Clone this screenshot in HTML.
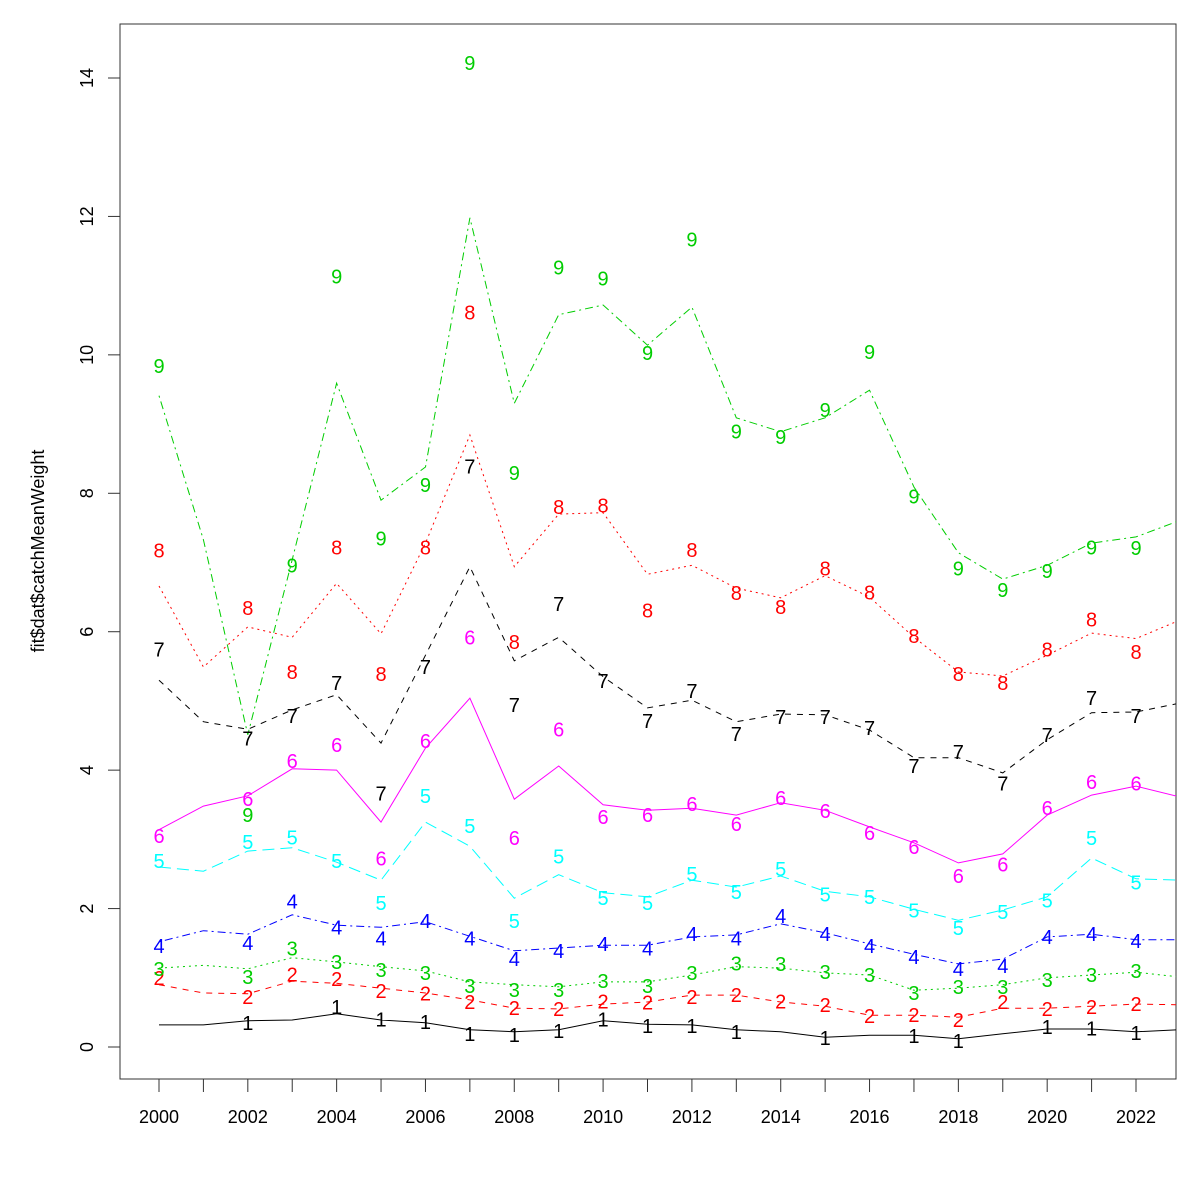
<!DOCTYPE html>
<html><head><meta charset="utf-8"><style>
html,body{margin:0;padding:0;background:#fff;}
svg{display:block;font-family:"Liberation Sans",sans-serif;}
</style></head><body>
<svg id="chart" width="1200" height="1200" viewBox="0 0 1200 1200" xmlns="http://www.w3.org/2000/svg">
<rect x="120" y="24" width="1056" height="1055" fill="none" stroke="#333" stroke-width="1"/>
<text transform="translate(44,551) rotate(-90)" text-anchor="middle" font-size="18">fit$dat$catchMeanWeight</text>
<g id="axes"></g>
<g id="series" clip-path="url(#clip)"></g>
<defs><clipPath id="clip"><rect x="120" y="24" width="1056" height="1055"/></clipPath></defs>
</svg>
<script>
const years=[2000,2001,2002,2003,2004,2005,2006,2007,2008,2009,2010,2011,2012,2013,2014,2015,2016,2017,2018,2019,2020,2021,2022,2023];
const yTicks=[0,2,4,6,8,10,12,14];
const xTickLabels=[2000,2002,2004,2006,2008,2010,2012,2014,2016,2018,2020,2022];
const fit1=[0.32,0.32,0.38,0.39,0.48,0.39,0.35,0.25,0.22,0.25,0.38,0.33,0.32,0.25,0.22,0.14,0.17,0.17,0.12,0.19,0.26,0.26,0.22,0.25];
const fit2=[0.90,0.78,0.77,0.95,0.92,0.85,0.78,0.68,0.56,0.55,0.62,0.65,0.75,0.75,0.65,0.59,0.46,0.46,0.43,0.56,0.56,0.59,0.62,0.61];
const fit3=[1.14,1.18,1.13,1.29,1.23,1.16,1.10,0.94,0.90,0.87,0.94,0.94,1.04,1.16,1.14,1.07,1.04,0.82,0.85,0.90,1.00,1.04,1.08,1.01];
const fit4=[1.52,1.68,1.63,1.91,1.76,1.73,1.81,1.60,1.39,1.43,1.47,1.47,1.59,1.62,1.78,1.65,1.49,1.34,1.20,1.27,1.59,1.63,1.55,1.55];
const fit5=[2.60,2.54,2.83,2.88,2.67,2.41,3.25,2.90,2.15,2.49,2.23,2.17,2.41,2.31,2.47,2.25,2.17,1.99,1.83,1.98,2.17,2.73,2.43,2.41];
const fit6=[3.14,3.48,3.63,4.02,4.00,3.25,4.32,5.04,3.58,4.06,3.50,3.42,3.45,3.35,3.53,3.42,3.18,2.95,2.66,2.79,3.35,3.64,3.77,3.61];
const fit7=[5.30,4.70,4.59,4.87,5.09,4.39,5.66,6.94,5.58,5.92,5.35,4.90,5.01,4.70,4.81,4.80,4.58,4.18,4.18,3.96,4.44,4.83,4.84,4.97];
const fit8=[6.66,5.49,6.07,5.92,6.70,5.97,7.28,8.84,6.94,7.70,7.72,6.83,6.96,6.63,6.49,6.81,6.50,5.92,5.42,5.36,5.66,5.98,5.90,6.17];
const fit9=[9.41,7.33,4.51,7.04,9.59,7.90,8.38,11.98,9.30,10.58,10.72,10.14,10.69,9.09,8.89,9.09,9.49,8.09,7.14,6.76,6.96,7.28,7.37,7.61];
const obs1=[null,null,0.35,null,0.58,0.40,0.36,0.19,0.17,0.23,0.40,0.30,0.30,0.22,null,0.13,null,0.16,0.09,null,0.29,0.27,0.20,null];
const obs2=[1.00,null,0.72,1.05,0.98,0.81,0.77,0.65,0.56,0.55,0.66,0.64,0.72,0.75,0.66,0.61,0.45,0.46,0.39,0.65,0.55,0.58,0.62,null];
const obs3=[1.13,null,1.01,1.42,1.23,1.11,1.07,0.88,0.82,0.82,0.95,0.88,1.07,1.21,1.20,1.08,1.04,0.78,0.87,0.87,0.97,1.04,1.10,null];
const obs4=[1.46,null,1.50,2.10,1.73,1.57,1.82,1.57,1.27,1.39,1.49,1.42,1.63,1.57,1.89,1.63,1.46,1.30,1.13,1.17,1.59,1.63,1.53,null];
const obs5=[2.69,null,2.96,3.03,2.69,2.08,3.63,3.19,1.82,2.75,2.15,2.08,2.50,2.24,2.57,2.20,2.17,1.97,1.72,1.95,2.12,3.02,2.38,null];
const obs6=[3.05,null,3.58,4.13,4.36,2.72,4.42,5.92,3.02,4.59,3.32,3.35,3.51,3.22,3.60,3.41,3.09,2.89,2.47,2.64,3.45,3.83,3.81,null];
const obs7=[5.74,null,4.46,4.78,5.26,3.66,5.49,8.39,4.94,6.40,5.29,4.71,5.14,4.52,4.77,4.77,4.61,4.06,4.26,3.81,4.51,5.04,4.78,null];
const obs8=[7.17,null,6.34,5.42,7.22,5.39,7.22,10.61,5.85,7.80,7.82,6.31,7.18,6.56,6.36,6.91,6.57,5.94,5.39,5.26,5.74,6.18,5.71,null];
const obs9=[9.84,null,3.35,6.96,11.13,7.35,8.12,14.22,8.29,11.26,11.10,10.03,11.67,8.89,8.81,9.20,10.04,7.95,6.91,6.60,6.88,7.22,7.21,null];

const fits=[fit1,fit2,fit3,fit4,fit5,fit6,fit7,fit8,fit9];
const obs=[obs1,obs2,obs3,obs4,obs5,obs6,obs7,obs8,obs9];
const colors=['#000','#ff0000','#00cd00','#0000ff','#00ffff','#ff00ff','#000','#ff0000','#00cd00'];
const dashes=['','6,6','2,4','2,4,8,4','12,6','','6,6','2,4','2,4,8,4'];
const xs=y=>159+(y-2000)*(977/22);
const ys=v=>1047-v*(969/14);
const NS='http://www.w3.org/2000/svg';
function mk(tag,attrs,parent){const e=document.createElementNS(NS,tag);for(const k in attrs)e.setAttribute(k,attrs[k]);parent.appendChild(e);return e;}
const axes=document.getElementById('axes'), series=document.getElementById('series');
let ya=mk('line',{x1:120,x2:120,y1:ys(0),y2:ys(14),stroke:'#333'},axes);


yTicks.forEach(t=>{
  const l=mk('line',{x1:108,x2:120,y1:ys(t),y2:ys(t),stroke:'#333'},axes);
  
  
  const tx=mk('text',{transform:`translate(93,${ys(t)}) rotate(-90)`,'text-anchor':'middle','font-size':18},axes);
  tx.textContent=t;
  
  
});
years.forEach(y=>{
  if(xs(y)>1176) return;
  const l=mk('line',{x1:xs(y),x2:xs(y),y1:1079,y2:1092,stroke:'#333'},axes);
  
  
});
xTickLabels.forEach(y=>{
  const tx=mk('text',{x:xs(y),y:1123,'text-anchor':'middle','font-size':18},axes);
  tx.textContent=y;
  
  
});
fits.forEach((f,i)=>{
  const pts=f.map((v,j)=>xs(years[j]).toFixed(1)+','+ys(v).toFixed(1)).join(' ');
  const pl=mk('polyline',{points:pts,fill:'none',stroke:colors[i],'stroke-width':1,'stroke-dasharray':dashes[i]},series);
  
  
});
obs.forEach((o,i)=>{
  o.forEach((v,j)=>{
    if(v===null) return;
    const tx=mk('text',{x:xs(years[j]),y:ys(v)+7,'text-anchor':'middle','font-size':20,fill:colors[i]},series);
    tx.textContent=String(i+1);
    
    
  });
});
</script>
</body></html>
